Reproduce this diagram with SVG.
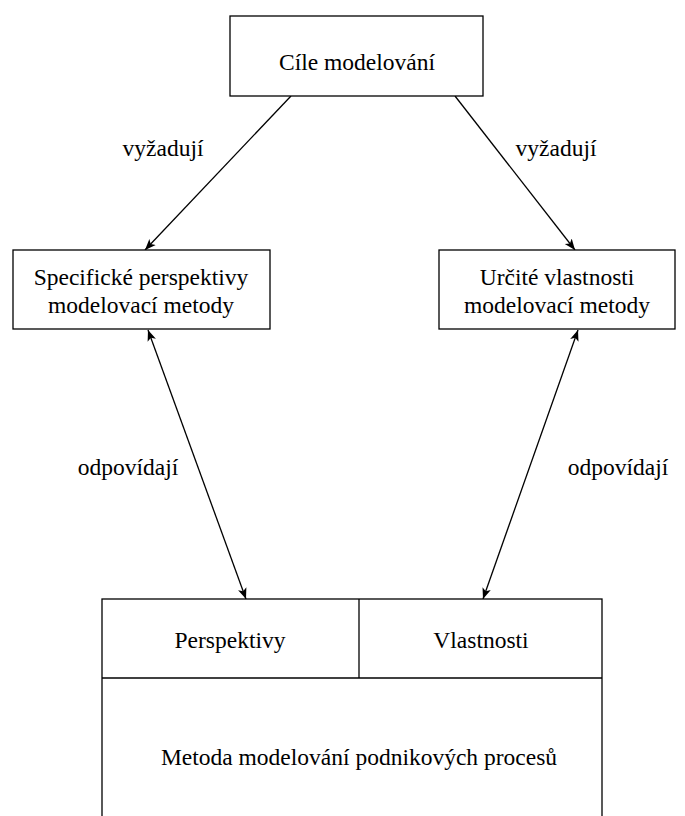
<svg xmlns="http://www.w3.org/2000/svg" width="685" height="816" viewBox="0 0 685 816">
  <style>
    .box { fill: #fff; stroke: #000; stroke-width: 1.3; }
    .ln { stroke: #000; stroke-width: 1.3; fill: none; }
    text { font-family: "Liberation Serif", "Times New Roman", serif; font-size: 23.5px; fill: #000; text-anchor: middle; }
  </style>
  <defs>
    <marker id="ah" viewBox="0 0 10 10" refX="10" refY="5" markerWidth="11" markerHeight="11" markerUnits="userSpaceOnUse" orient="auto-start-reverse">
      <path d="M0,1 L10,5 L0,9 L2.5,5 Z" fill="#000"/>
    </marker>
  </defs>
  <rect width="685" height="816" fill="#fff"/>

  <g id="connectors">
    <line class="ln" x1="291" y1="96" x2="145" y2="250" marker-end="url(#ah)"/>
    <line class="ln" x1="455" y1="96" x2="575" y2="250" marker-end="url(#ah)"/>
    <line class="ln" x1="148" y1="330" x2="246" y2="599" marker-start="url(#ah)" marker-end="url(#ah)"/>
    <line class="ln" x1="578" y1="330" x2="483" y2="599" marker-start="url(#ah)" marker-end="url(#ah)"/>
    <text x="163" y="156">vyžadují</text>
    <text x="556" y="156">vyžadují</text>
    <text x="128" y="475">odpovídají</text>
    <text x="618" y="475">odpovídají</text>
  </g>

  <g id="cile">
    <rect class="box" x="230" y="16" width="253" height="80"/>
    <text x="357" y="70">Cíle modelování</text>
  </g>

  <g id="perspektivy-metody">
    <rect class="box" x="13" y="250" width="257" height="79"/>
    <text x="141" y="285">Specifické perspektivy</text>
    <text x="141" y="313">modelovací metody</text>
  </g>

  <g id="vlastnosti-metody">
    <rect class="box" x="439" y="250" width="236" height="79"/>
    <text x="557" y="285">Určité vlastnosti</text>
    <text x="557" y="313">modelovací metody</text>
  </g>

  <g id="metoda">
    <rect class="box" x="102" y="599" width="500" height="225"/>
    <line class="ln" x1="102" y1="678" x2="602" y2="678"/>
    <line class="ln" x1="359" y1="599" x2="359" y2="678"/>
    <text x="230" y="648">Perspektivy</text>
    <text x="481" y="648">Vlastnosti</text>
    <text x="359" y="765">Metoda modelování podnikových procesů</text>
  </g>
</svg>
